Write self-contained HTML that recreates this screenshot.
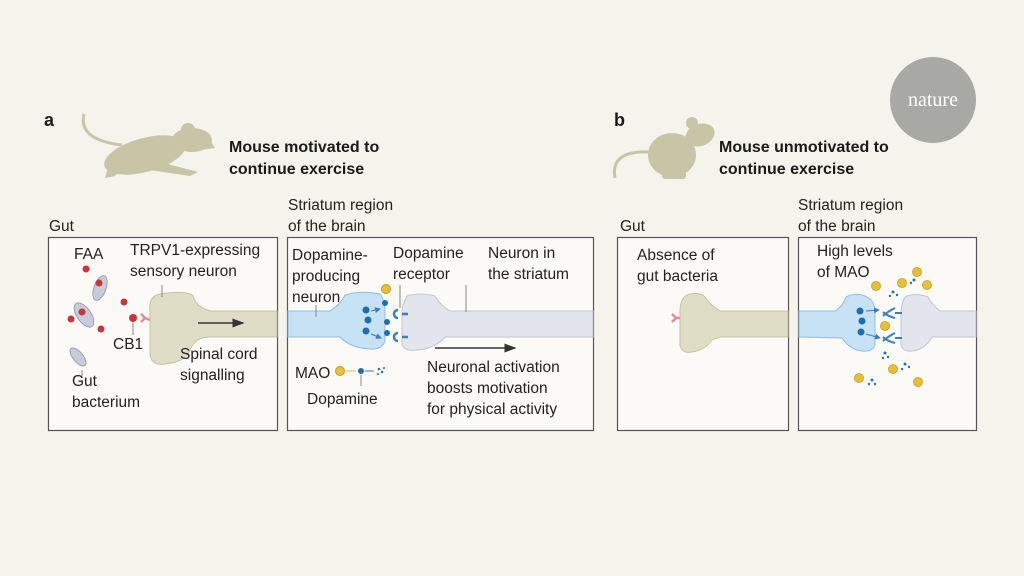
<!DOCTYPE html>
<html><head><meta charset="utf-8"><style>
html,body{margin:0;padding:0;background:#f4f3ec;}
svg{display:block}
text{font-family:"Liberation Sans",sans-serif;fill:#222;}
.t{font-size:15.5px}
.h{font-size:16px;font-weight:bold;fill:#1a1a1a}
</style></head><body>
<svg width="1024" height="576" viewBox="0 0 1024 576" xmlns="http://www.w3.org/2000/svg">
<defs>
<marker id="ar" markerWidth="8" markerHeight="8" refX="7" refY="4" orient="auto"><path d="M0,1 L8,4 L0,7z" fill="#333"/></marker>
<marker id="ab" markerWidth="6" markerHeight="6" refX="5" refY="3" orient="auto"><path d="M0,0 L6,3 L0,6z" fill="#3a7dc0"/></marker>
</defs>
<rect width="1024" height="576" fill="#f4f3ec"/>
<circle cx="933" cy="100" r="43" fill="#a8a8a5"/>
<text x="933" y="106" text-anchor="middle" style="font-family:'Liberation Serif',serif;font-size:20px;fill:#fff">nature</text>

<!-- a header -->
<text x="44" y="126" class="h" style="font-size:18px">a</text>
<g fill="#c8c5a7">
<path d="M84,114 Q78,140 122,145" stroke="#c8c5a7" stroke-width="3" fill="none"/>
<ellipse cx="145" cy="155" rx="42" ry="17" transform="rotate(-15 145 155)"/>
<ellipse cx="192" cy="140" rx="20" ry="12"/>
<path d="M205,133 L215,148 L200,150z"/>
<circle cx="188" cy="130" r="7"/>
<path d="M110,160 L105,178 L115,176 L125,165z M160,162 L198,172 L190,176 L150,170z"/>
</g>
<text x="229" y="152" class="h">Mouse motivated to</text>
<text x="229" y="174" class="h">continue exercise</text>

<!-- b header -->
<text x="614" y="126" class="h" style="font-size:18px">b</text>
<g fill="#c8c5a7">
<path d="M650,152 Q610,150 615,178" stroke="#c8c5a7" stroke-width="3" fill="none"/>
<ellipse cx="672" cy="155" rx="24" ry="22"/>
<ellipse cx="700" cy="135" rx="15" ry="11" transform="rotate(-20 700 135)"/>
<circle cx="692" cy="123" r="6"/>
<rect x="662" y="165" width="24" height="14" rx="3"/>
</g>
<text x="719" y="152" class="h">Mouse unmotivated to</text>
<text x="719" y="174" class="h">continue exercise</text>

<!-- section labels -->
<text x="49" y="231" class="t">Gut</text>
<text x="288" y="210" class="t">Striatum region</text>
<text x="288" y="231" class="t">of the brain</text>
<text x="620" y="231" class="t">Gut</text>
<text x="798" y="210" class="t">Striatum region</text>
<text x="798" y="231" class="t">of the brain</text>

<!-- boxes -->
<g fill="#fbfaf6" stroke="#555" stroke-width="1.2">
<rect x="48.5" y="237.5" width="229" height="193"/>
<rect x="287.5" y="237.5" width="306" height="193"/>
<rect x="617.5" y="237.5" width="171" height="193"/>
<rect x="798.5" y="237.5" width="178" height="193"/>
</g>

<!-- a gut neuron -->
<path d="M277,311 L210,311 Q195,306 193,296 Q188,290 160,294 Q148,296 150,312 L150,355 Q152,366 165,364 Q185,362 190,350 Q195,337 210,337 L277,337z" fill="#e0ddc6" stroke="#c7c3a4"/>
<line x1="198" y1="323" x2="243" y2="323" stroke="#333" stroke-width="1.5" marker-end="url(#ar)"/>
<path d="M145,318 L150,320 M145,318 l-4,-4 M145,318 l-4,4" stroke="#e58d95" stroke-width="2.5" fill="none"/>
<circle cx="133" cy="318" r="4" fill="#c8363a"/>
<line x1="133" y1="322" x2="133" y2="335" stroke="#888"/>
<line x1="162" y1="285" x2="162" y2="297" stroke="#888"/>
<g fill="#c8363a">
<circle cx="86" cy="269" r="3.5"/><circle cx="124" cy="302" r="3.5"/>
<circle cx="71" cy="319" r="3.5"/><circle cx="101" cy="329" r="3.5"/><circle cx="82" cy="297" r="0"/>
</g>
<g fill="#c9ccd8" stroke="#8f94a8" stroke-width="0.8">
<ellipse cx="100" cy="288" rx="6" ry="13" transform="rotate(20 100 288)"/>
<ellipse cx="84" cy="315" rx="7" ry="14" transform="rotate(-35 84 315)"/>
<ellipse cx="78" cy="357" rx="5" ry="11" transform="rotate(-40 78 357)"/>
</g>
<circle cx="99" cy="283" r="3.5" fill="#c8363a"/><circle cx="82" cy="312" r="3.5" fill="#c8363a"/>
<line x1="82" y1="370" x2="82" y2="378" stroke="#888"/>
<text x="74" y="259" class="t">FAA</text>
<text x="130" y="255" class="t">TRPV1-expressing</text>
<text x="130" y="276" class="t">sensory neuron</text>
<text x="113" y="349" class="t">CB1</text>
<text x="180" y="359" class="t">Spinal cord</text>
<text x="180" y="380" class="t">signalling</text>
<text x="72" y="386" class="t">Gut</text>
<text x="72" y="407" class="t">bacterium</text>

<!-- a brain -->
<path d="M288,311 L330,311 Q340,305 345,295 Q360,290 380,294 Q385,300 385,312 L385,340 Q383,350 370,349 Q350,348 340,337 L288,337z" fill="#c7e1f5" stroke="#8dbfe6"/>
<path d="M593,311 L450,311 Q440,305 435,296 Q420,292 407,296 Q402,305 402,312 L402,344 Q404,352 418,350 Q436,348 445,337 L593,337z" fill="#e3e5ec" stroke="#c3c7d3"/>
<g fill="#1b6fb0"><circle cx="366" cy="310" r="3.5"/><circle cx="368" cy="320" r="3.5"/><circle cx="366" cy="331" r="3.5"/>
<circle cx="385" cy="303" r="3"/><circle cx="387" cy="322" r="3"/><circle cx="387" cy="333" r="3"/></g>
<circle cx="386" cy="289" r="4.5" fill="#e6bf3c" stroke="#c59d1c"/>
<path d="M398,310 a4,4 0 1,0 0,8 M402,314 h6 M398,333 a4,4 0 1,0 0,8 M402,337 h6" stroke="#3a7dc0" stroke-width="2.5" fill="none"/>
<line x1="371" y1="311" x2="380" y2="309" stroke="#3a7dc0" marker-end="url(#ab)"/>
<line x1="371" y1="334" x2="381" y2="338" stroke="#3a7dc0" marker-end="url(#ab)"/>
<line x1="316" y1="305" x2="316" y2="317" stroke="#888"/>
<line x1="400" y1="285" x2="400" y2="308" stroke="#888"/>
<line x1="466" y1="285" x2="466" y2="312" stroke="#888"/>
<line x1="435" y1="348" x2="515" y2="348" stroke="#333" stroke-width="1.5" marker-end="url(#ar)"/>
<circle cx="340" cy="371" r="4.5" fill="#e6bf3c" stroke="#c59d1c"/>
<line x1="346" y1="371" x2="356" y2="371" stroke="#e6bf3c"/>
<circle cx="361" cy="371" r="3" fill="#1b6fb0"/>
<line x1="365" y1="371" x2="374" y2="371" stroke="#3a7dc0"/>
<g fill="#2a6fb0"><circle cx="379" cy="369" r="1.3"/><circle cx="382" cy="372" r="1.3"/><circle cx="378" cy="374" r="1"/><circle cx="384" cy="368" r="1"/></g>
<line x1="361" y1="375" x2="361" y2="386" stroke="#888"/>
<text x="292" y="260" class="t">Dopamine-</text>
<text x="292" y="281" class="t">producing</text>
<text x="292" y="302" class="t">neuron</text>
<text x="393" y="258" class="t">Dopamine</text>
<text x="393" y="279" class="t">receptor</text>
<text x="488" y="258" class="t">Neuron in</text>
<text x="488" y="279" class="t">the striatum</text>
<text x="295" y="378" class="t">MAO</text>
<text x="307" y="404" class="t">Dopamine</text>
<text x="427" y="372" class="t">Neuronal activation</text>
<text x="427" y="393" class="t">boosts motivation</text>
<text x="427" y="414" class="t">for physical activity</text>

<!-- b gut -->
<path d="M788,311 L720,311 Q710,305 705,297 Q700,292 690,294 Q680,296 680,312 L680,345 Q682,354 692,352 Q705,350 712,340 L720,337 L788,337z" fill="#e0ddc6" stroke="#c7c3a4"/>
<path d="M680,318 L676,318 l-4,-4 M676,318 l-4,4" stroke="#e58d95" stroke-width="2.5" fill="none"/>
<text x="637" y="260" class="t">Absence of</text>
<text x="637" y="281" class="t">gut bacteria</text>

<!-- b brain -->
<path d="M799,311 L835,311 Q843,306 846,297 Q855,292 865,296 Q875,300 875,312 L875,345 Q873,352 862,351 Q850,350 842,338 L799,337z" fill="#c7e1f5" stroke="#8dbfe6"/>
<path d="M976,311 L940,311 Q932,305 928,297 Q915,292 905,297 Q901,305 901,313 L901,345 Q903,352 912,351 Q925,350 932,337 L976,337z" fill="#e3e5ec" stroke="#c3c7d3"/>
<g fill="#1b6fb0"><circle cx="860" cy="311" r="3.5"/><circle cx="862" cy="321" r="3.5"/><circle cx="861" cy="332" r="3.5"/></g>
<line x1="866" y1="311" x2="879" y2="310" stroke="#3a7dc0" marker-end="url(#ab)"/>
<line x1="866" y1="334" x2="880" y2="338" stroke="#3a7dc0" marker-end="url(#ab)"/>
<path d="M895,308 q-8,4 -12,8 M895,318 q-8,-2 -12,-6 M895,313 h7 M895,333 q-8,4 -12,8 M895,343 q-8,-2 -12,-6 M895,338 h7" stroke="#3a7dc0" stroke-width="2" fill="none"/>
<g fill="#e6bf3c" stroke="#c59d1c" stroke-width="0.8">
<circle cx="876" cy="286" r="4.5"/><circle cx="902" cy="283" r="4.5"/><circle cx="917" cy="272" r="4.5"/><circle cx="927" cy="285" r="4.5"/>
<circle cx="885" cy="326" r="4.5"/><circle cx="893" cy="369" r="4.5"/><circle cx="859" cy="378" r="4.5"/><circle cx="918" cy="382" r="4.5"/>
</g>
<g fill="#2a6fb0">
<circle cx="893" cy="292" r="1.5"/><circle cx="897" cy="295" r="1.2"/><circle cx="890" cy="296" r="1.2"/>
<circle cx="914" cy="280" r="1.5"/><circle cx="911" cy="283" r="1.2"/>
<circle cx="885" cy="353" r="1.5"/><circle cx="888" cy="357" r="1.2"/><circle cx="883" cy="358" r="1.2"/>
<circle cx="905" cy="364" r="1.5"/><circle cx="909" cy="367" r="1.2"/><circle cx="902" cy="369" r="1.2"/>
<circle cx="872" cy="380" r="1.5"/><circle cx="875" cy="384" r="1.2"/><circle cx="869" cy="384" r="1.2"/>
</g>
<text x="817" y="256" class="t">High levels</text>
<text x="817" y="277" class="t">of MAO</text>
</svg>
</body></html>
